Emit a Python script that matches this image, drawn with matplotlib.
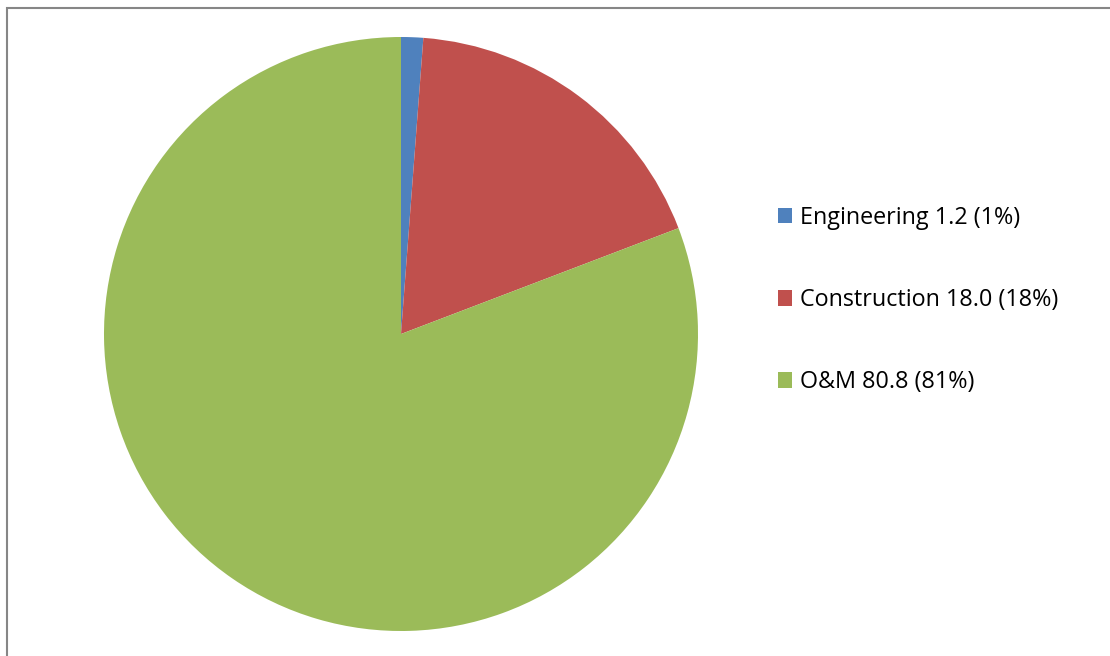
import matplotlib
matplotlib.use("Agg")
import matplotlib.pyplot as plt
from matplotlib.patches import Rectangle

categories = ["Engineering", "Construction", "O&M"]
values = [1.2, 18.0, 80.8]
percent_labels = ["1%", "18%", "81%"]
colors = ["#4F81BD", "#C0504D", "#9BBB59"]

W, H = 1110, 656
fig = plt.figure(figsize=(W / 100, H / 100), dpi=100)
fig.patch.set_facecolor("white")

# outer chart border (right/bottom cut off by image edge)
fig.patches.append(Rectangle((7 / W, -0.2), 1.5, 1 - 8 / H + 0.2,
                             transform=fig.transFigure, fill=False,
                             edgecolor="#868686", linewidth=1.5))

cx, cy, r = 401, 334, 297
ax = fig.add_axes([(cx - r) / W, 1 - (cy + r) / H, 2 * r / W, 2 * r / H])
wedges, _ = ax.pie(values, colors=colors, startangle=90, counterclock=False,
                   radius=1, wedgeprops=dict(linewidth=0))
ax.set_xlim(-1, 1)
ax.set_ylim(-1, 1)
ax.set_aspect("equal")
ax.axis("off")

labels = [f"{c} {v:.1f} ({p})" for c, v, p in zip(categories, values, percent_labels)]
fig.legend(wedges, labels, loc="center left",
           bbox_to_anchor=(778 / W, 1 - 300 / H),
           frameon=False, prop=dict(family="Open Sans", size=16.8),
           handlelength=0.61, handleheight=0.65, handletextpad=0.35,
           labelspacing=2.5, borderpad=0, borderaxespad=0)

fig.savefig("out.png", dpi=100)
